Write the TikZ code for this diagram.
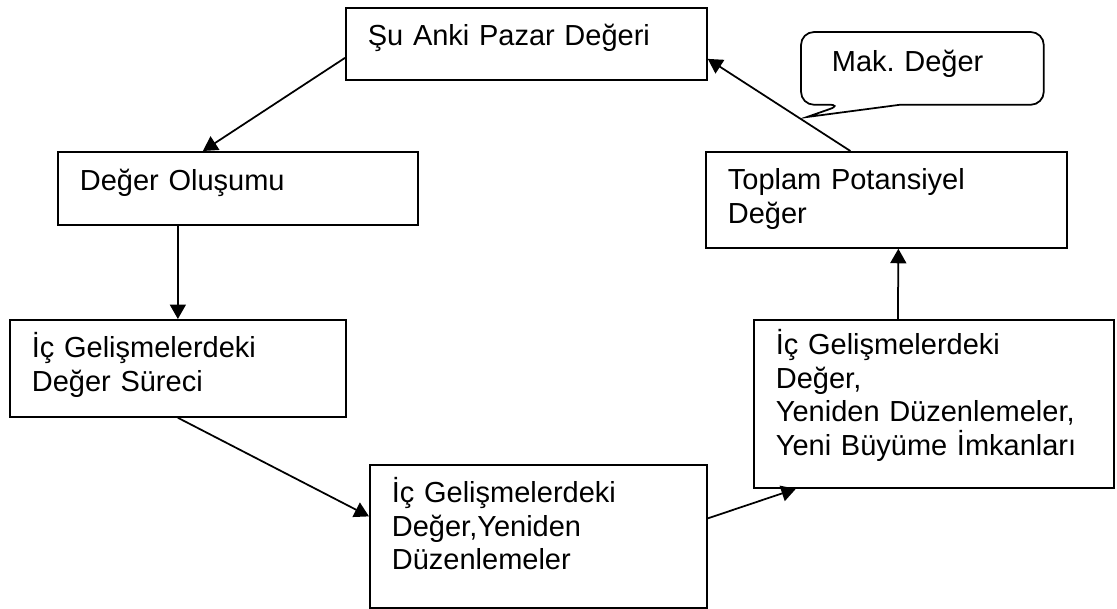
\documentclass[tikz,border=0pt]{standalone}
\usepackage{fontspec}
\setmainfont{Liberation Sans}
\usetikzlibrary{arrows.meta}
\frenchspacing

\begin{document}
\begin{tikzpicture}[
    x=0.4pt, y=-0.4pt,
    arr/.style={-{Triangle[length=5.8pt,width=6.4pt]}, line width=0.7pt},
    box/.style={draw, line width=0.7pt, anchor=north west, align=left, inner xsep=8.8pt, inner ysep=0pt,
        font=\fontsize{11.6}{13.4}\selectfont},
    bubble/.style={box, draw=none, inner xsep=12pt},
]
\useasboundingbox (0,0) rectangle (1117,608);
% === Boxes ===
\node[box, text width=126.8pt, text height=15.2pt, text depth=13.6pt] (pazar) at (345,7) {Şu Anki Pazar Değeri};
\node[box, text width=126.4pt, text height=15.6pt, text depth=13.6pt] (olusum) at (57,151) {Değer Oluşumu};
\node[box, text width=116.8pt, text height=15.2pt, text depth=23.6pt] (surec) at (9,319) {İç Gelişmelerdeki\\Değer Süreci};
\node[box, text width=117.2pt, text height=15.2pt, text depth=42pt] (duzen) at (369,464) {İç Gelişmelerdeki\\Değer,Yeniden\\Düzenlemeler};
\node[box, text width=126.4pt, text height=14pt, text depth=53.2pt] (buyume) at (753,319) {İç Gelişmelerdeki\\Değer,\\Yeniden Düzenlemeler,\\Yeni Büyüme İmkanları};
\node[box, text width=126.8pt, text height=15.2pt, text depth=23.2pt] (toplam) at (705,151) {Toplam Potansiyel\\Değer};
% === Callout ===
\node[bubble, text width=72.4pt, text height=15.6pt, text depth=12.8pt] (makdeger) at (801,32) {Mak. Değer};
\coordinate (tip) at (807,117);
\draw[line width=0.7pt, rounded corners=5.2pt] ([shift={(41,0)}]makdeger.south west) [sharp corners]-- (tip)
    -- ([shift={(99,0)}]makdeger.south west) [rounded corners=5.2pt]-- (makdeger.south east)
    -- (makdeger.north east) -- (makdeger.north west) -- (makdeger.south west) -- cycle;
% === Cycle arrows ===
\draw[arr] ([shift={(0,14)}]pazar.west) -- ([shift={(-35,0)}]olusum.north);
\draw[arr] (olusum.south -| surec.north) -- (surec.north);
\draw[arr] (surec.south) -- ([shift={(0,-20)}]duzen.west);
\draw[arr] ([shift={(0,-18)}]duzen.east) -- ([shift={(-138,0)}]buyume.south);
\draw[arr] ([shift={(-36,0)}]buyume.north) -- ([shift={(12,0)}]toplam.south);
\draw[arr] ([shift={(-36,0)}]toplam.north) -- ([shift={(0,15)}]pazar.east);
\end{tikzpicture}
\end{document}
